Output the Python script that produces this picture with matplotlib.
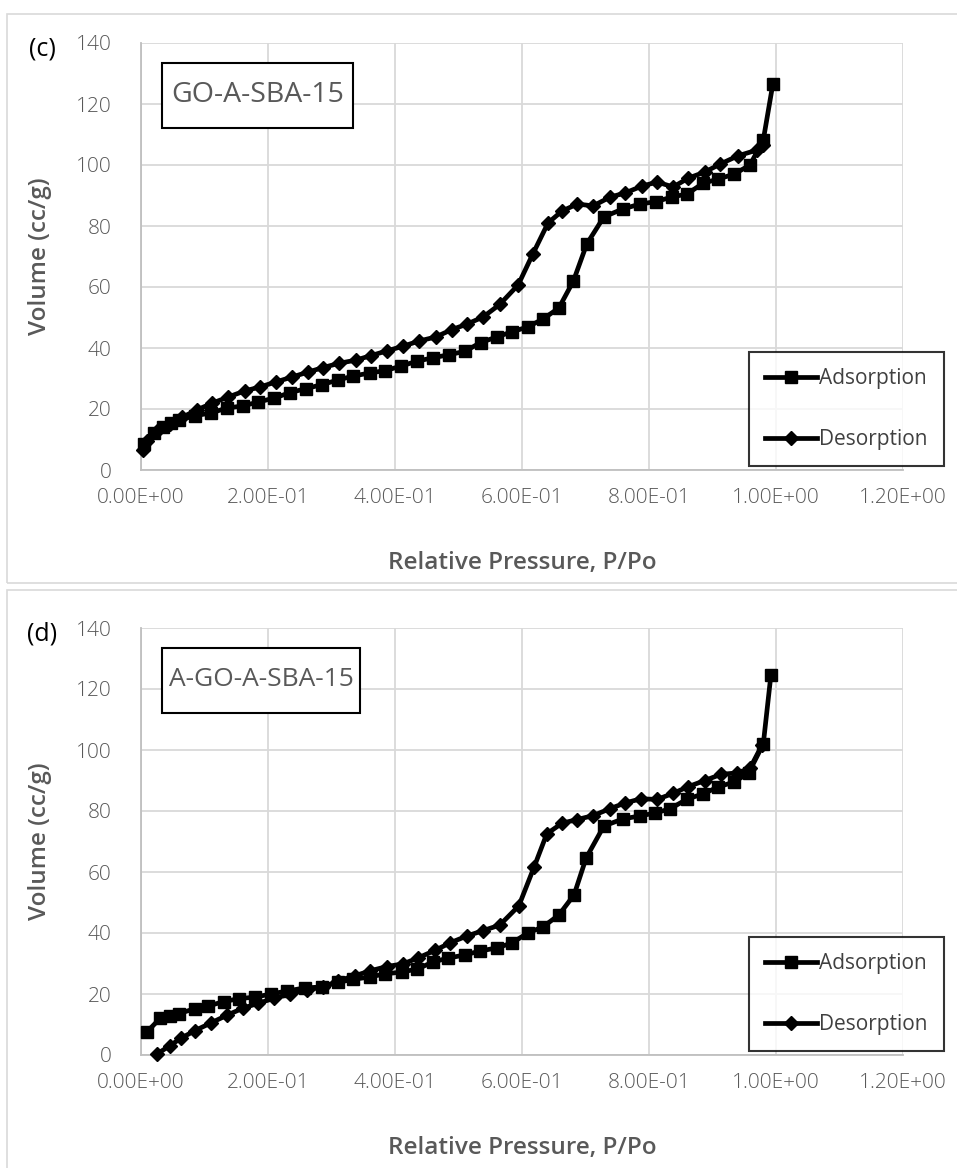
import matplotlib
matplotlib.use("Agg")
import matplotlib.pyplot as plt
from matplotlib.patches import Rectangle
from matplotlib.ticker import FixedLocator, FuncFormatter

plt.rcParams['font.family'] = ['Open Sans', 'DejaVu Sans']

# ---- GO-A-SBA-15 isotherm ----
c_ads_p = [0.005, 0.02, 0.035, 0.047, 0.06, 0.085, 0.11, 0.135, 0.16, 0.185,
           0.21, 0.235, 0.26, 0.285, 0.31, 0.334, 0.36, 0.385, 0.41, 0.435,
           0.46, 0.485, 0.51, 0.535, 0.56, 0.584, 0.609, 0.633, 0.658, 0.681,
           0.702, 0.729, 0.759, 0.786, 0.811, 0.836, 0.86, 0.885, 0.909, 0.934,
           0.959, 0.98, 0.995]
c_ads_v = [8.5, 12.0, 14.1, 15.3, 16.4, 17.8, 18.7, 20.3, 21.0, 22.3,
           23.6, 25.4, 26.7, 28.0, 29.5, 30.8, 31.8, 32.6, 34.1, 35.7,
           36.8, 37.8, 38.9, 41.8, 43.6, 45.3, 46.9, 49.5, 53.1, 62.0,
           74.1, 83.0, 85.6, 87.2, 88.0, 89.5, 90.5, 94.0, 95.4, 97.0,
           100.0, 108.2, 126.5]
c_des_p = [0.98, 0.97, 0.94, 0.912, 0.888, 0.862, 0.838, 0.813, 0.789, 0.762,
           0.739, 0.712, 0.687, 0.663, 0.641, 0.617, 0.594, 0.565, 0.539, 0.513,
           0.489, 0.464, 0.438, 0.413, 0.388, 0.362, 0.338, 0.312, 0.287, 0.263,
           0.238, 0.213, 0.187, 0.163, 0.137, 0.112, 0.088, 0.065, 0.045, 0.025,
           0.01, 0.003]
c_des_v = [106.6, 104.9, 103.0, 100.3, 97.7, 95.7, 92.8, 94.4, 93.1, 90.8,
           89.5, 86.6, 87.2, 84.9, 81.0, 70.8, 60.7, 54.3, 50.2, 47.8,
           46.0, 43.6, 42.3, 40.6, 39.1, 37.5, 36.0, 35.0, 33.6, 32.1,
           30.5, 28.9, 27.2, 25.9, 23.9, 21.9, 19.7, 17.3, 15.2, 12.8,
           9.5, 6.5]

# ---- A-GO-A-SBA-15 isotherm ----
d_ads_p = [0.009, 0.03, 0.045, 0.06, 0.085, 0.105, 0.13, 0.155, 0.18, 0.205,
           0.23, 0.258, 0.285, 0.31, 0.334, 0.361, 0.384, 0.411, 0.435, 0.46,
           0.484, 0.51, 0.534, 0.56, 0.584, 0.609, 0.633, 0.658, 0.682, 0.701,
           0.729, 0.759, 0.786, 0.809, 0.833, 0.86, 0.885, 0.909, 0.934, 0.957,
           0.98, 0.992]
d_ads_v = [7.5, 12.0, 12.8, 13.6, 15.2, 16.0, 17.5, 18.5, 19.0, 20.0,
           21.0, 22.0, 22.3, 23.8, 24.8, 25.6, 26.6, 27.2, 28.2, 30.5,
           31.8, 32.8, 34.1, 35.1, 36.7, 40.0, 42.0, 45.9, 52.5, 64.6,
           75.1, 77.4, 78.4, 79.3, 80.7, 83.9, 85.6, 87.9, 89.5, 92.5,
           102.0, 124.6]
d_des_p = [0.978, 0.959, 0.939, 0.913, 0.888, 0.862, 0.838, 0.813, 0.787, 0.762,
           0.739, 0.712, 0.687, 0.663, 0.639, 0.619, 0.595, 0.565, 0.539, 0.513,
           0.487, 0.463, 0.436, 0.413, 0.387, 0.361, 0.337, 0.31, 0.287, 0.261,
           0.235, 0.21, 0.185, 0.16, 0.135, 0.11, 0.085, 0.063, 0.045, 0.025]
d_des_v = [101.6, 94.0, 92.5, 92.0, 90.0, 88.0, 85.8, 83.8, 84.0, 82.6,
           80.8, 78.5, 77.2, 76.0, 72.5, 61.6, 48.9, 42.6, 40.8, 39.0,
           36.8, 34.3, 31.8, 29.9, 29.0, 27.6, 26.0, 24.3, 22.3, 21.3,
           20.0, 18.6, 17.0, 15.3, 13.0, 10.5, 8.0, 5.5, 3.0, 0.3]

x_ticks = [0.0, 0.2, 0.4, 0.6, 0.8, 1.0, 1.2]
y_ticks = [0, 20, 40, 60, 80, 100, 120, 140]
series_names = ["Adsorption", "Desorption"]

W, H = 957, 1168
fig = plt.figure(figsize=(W / 100, H / 100), dpi=100)

GRID = "#d9d9d9"
TXT = "#595959"


def px_rect(x0, y0, x1, y1):
    """Figure-fraction rectangle from pixel corners (top-left origin)."""
    return [x0 / W, 1 - y1 / H, (x1 - x0) / W, (y1 - y0) / H]


def panel(top, frame_top, frame_bot, tag, sample, ads_p, ads_v, des_p, des_v,
          box_w, box_fs):
    # outer chart frame
    fig.patches.append(Rectangle((7 / W, 1 - frame_bot / H), 2.0,
                                 (frame_bot - frame_top) / H,
                                 transform=fig.transFigure, fill=False,
                                 edgecolor=GRID, linewidth=1.2))
    ax = fig.add_axes(px_rect(141, top + 29, 903, top + 456))
    ax.set_xlim(0, 1.2)
    ax.set_ylim(0, 140)
    ax.xaxis.set_major_locator(FixedLocator(x_ticks))
    ax.yaxis.set_major_locator(FixedLocator(y_ticks))
    ax.xaxis.set_major_formatter(FuncFormatter(lambda v, _: f"{v:.2E}"))
    ax.grid(True, color=GRID, linewidth=1.3)
    ax.set_axisbelow(True)
    for s in ("top", "right"):
        ax.spines[s].set_visible(False)
    for s in ("left", "bottom"):
        ax.spines[s].set_color("#bfbfbf")
        ax.spines[s].set_linewidth(1.3)
    ax.tick_params(length=0, labelsize=15, labelcolor=TXT)
    ax.tick_params(axis="x", pad=13)
    ax.tick_params(axis="y", pad=21)
    for lab in ax.get_xticklabels() + ax.get_yticklabels():
        lab.set_fontweight("light")

    ax.plot(ads_p, ads_v, color="black", lw=3.4, marker="s", ms=9,
            label=series_names[0], clip_on=False, zorder=3)
    ax.plot(des_p, des_v, color="black", lw=3.4, marker="D", ms=6.8,
            label=series_names[1], clip_on=False, zorder=3)

    ax.set_xlabel("Relative Pressure, P/Po", fontsize=17.5, color=TXT,
                  fontweight="semibold")
    ax.xaxis.set_label_coords(0.5, -0.19)
    ax.set_ylabel("Volume (cc/g)", fontsize=17.5, color=TXT,
                  fontweight="semibold")
    ax.yaxis.set_label_coords(-0.117, 0.5)

    fig.text(42 / W, 1 - (top + 35) / H, tag, fontsize=18, color="black",
             ha="center", va="center")

    # sample name box
    fig.patches.append(Rectangle((162 / W, 1 - (top + 114) / H), box_w / W,
                                 65 / H, transform=fig.transFigure,
                                 fill=True, facecolor="white",
                                 edgecolor="black", linewidth=1.5, zorder=5))
    fig.text((162 + box_w / 2) / W, 1 - (top + 81) / H, sample,
             fontsize=box_fs, color=TXT, ha="center", va="center", zorder=6)

    leg = ax.legend(loc="upper left",
                    bbox_to_anchor=(749 / W, 1 - (top + 338) / H),
                    bbox_transform=fig.transFigure, fontsize=15,
                    frameon=True, fancybox=False, edgecolor="black",
                    labelspacing=1.9, handlelength=2.5, handletextpad=0.1,
                    borderpad=0.78, borderaxespad=0, markerscale=1.0)
    leg.get_frame().set_linewidth(1.5)
    for t in leg.get_texts():
        t.set_color("#404040")
    return ax


panel(14, 14, 583, "(c)", "GO-A-SBA-15",
      c_ads_p, c_ads_v, c_des_p, c_des_v, 191, 20.5)
panel(599, 590, 1175, "(d)", "A-GO-A-SBA-15",
      d_ads_p, d_ads_v, d_des_p, d_des_v, 198, 19)

fig.savefig("out.png", dpi=100, facecolor="white")
